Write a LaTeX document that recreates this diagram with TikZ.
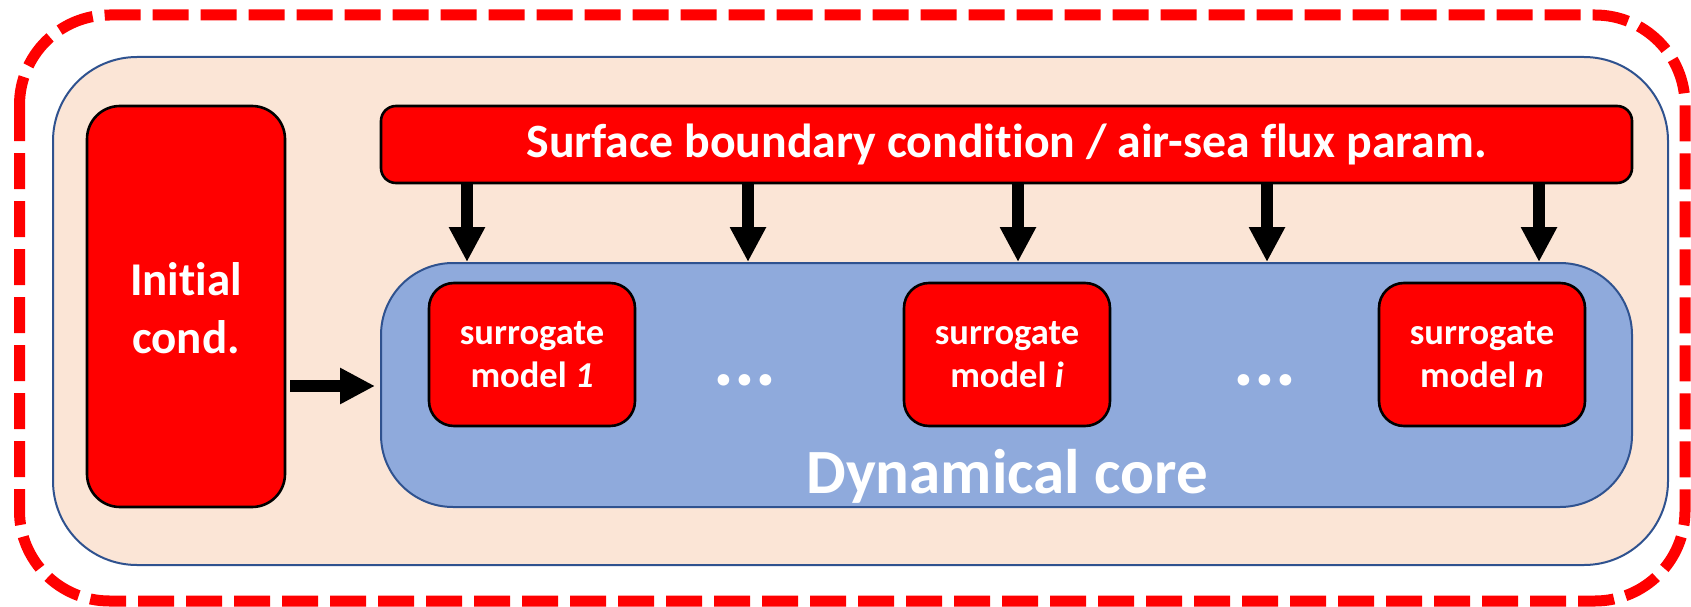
\documentclass[tikz,border=0pt]{standalone}
\usepackage{fontspec}
\setmainfont{Carlito}[Ligatures=NoCommon]
\usetikzlibrary{arrows.meta}

\definecolor{boxred}{HTML}{FF0000}
\definecolor{peach}{HTML}{FBE5D6}
\definecolor{coreblue}{HTML}{8FAADC}
\definecolor{edgeblue}{HTML}{2F528F}

\tikzset{
  redbox/.style={draw=black, line width=2.6pt, fill=boxred, text=white,
    font=\bfseries, align=center, inner sep=0pt},
  subbox/.style={redbox, rounded corners=25pt, minimum width=206pt,
    minimum height=143pt, font=\fontsize{36.5}{43}\selectfont\bfseries},
  flow/.style={line width=12pt, -{Triangle[length=35pt,width=34pt]}},
  dotsnode/.style={text=white, inner sep=0pt,
    font=\fontsize{78}{80}\selectfont\bfseries}
}

\begin{document}
\begin{tikzpicture}[x=1pt,y=-1pt]
  \useasboundingbox (0,0) rectangle (1691,607);

  % outer dashed frame
  \draw[boxred, line width=11pt, dash pattern=on 36pt off 12pt,
        rounded corners=90pt] (19.5,15) rectangle (1685,601);

  % model background
  \draw[edgeblue, line width=2pt, fill=peach, rounded corners=84pt]
        (53,57) rectangle (1668,565);

  % initial conditions
  \node[redbox, rounded corners=33pt, minimum width=198pt, minimum height=401pt]
        (init) at (186,306.5) {};
  \node[text=white, align=center, inner sep=0pt, anchor=base,
        font=\fontsize{47}{58}\selectfont\bfseries]
        (initlabel) at (186,353) {Initial\\cond.};

  % surface forcing
  \node[redbox, rounded corners=15pt, minimum width=1251pt, minimum height=77pt,
        font=\fontsize{47.8}{56}\selectfont\bfseries]
        (surf) at (1006.5,144.5) {Surface boundary condition / air-sea flux param.};

  % dynamical core
  \node[draw=edgeblue, line width=2pt, fill=coreblue, rounded corners=72pt,
        minimum width=1251pt, minimum height=244pt, inner sep=0pt]
        (core) at (1006.5,385) {};
  \node[text=white, anchor=base, inner sep=0pt,
        font=\fontsize{63}{70}\selectfont\bfseries]
        (corelabel) at (1007,493) {Dynamical core};

  % surrogate models
  \node[subbox] (s1) at (532,354.5) {surrogate\\model \textit{1}};
  \node[subbox] (si) at (1007,354.5) {surrogate\\model \textit{i}};
  \node[subbox] (sn) at (1482,354.5) {surrogate\\model \textit{n}};

  \node[dotsnode] (d1) at (745,380) {...};
  \node[dotsnode] (d2) at (1265,380) {...};

  % forcing arrows
  \foreach \xx [count=\k] in {467,748,1018,1267,1539} {
    \coordinate (f\k) at (\xx,0);
    \draw[flow] (surf.south -| f\k) -- (core.north -| f\k);
  }

  % initial state into the core
  \coordinate (ia) at (0,386);
  \draw[flow, shorten <=4pt, shorten >=5pt] (init.east |- ia) -- (core.west |- ia);
\end{tikzpicture}
\end{document}
